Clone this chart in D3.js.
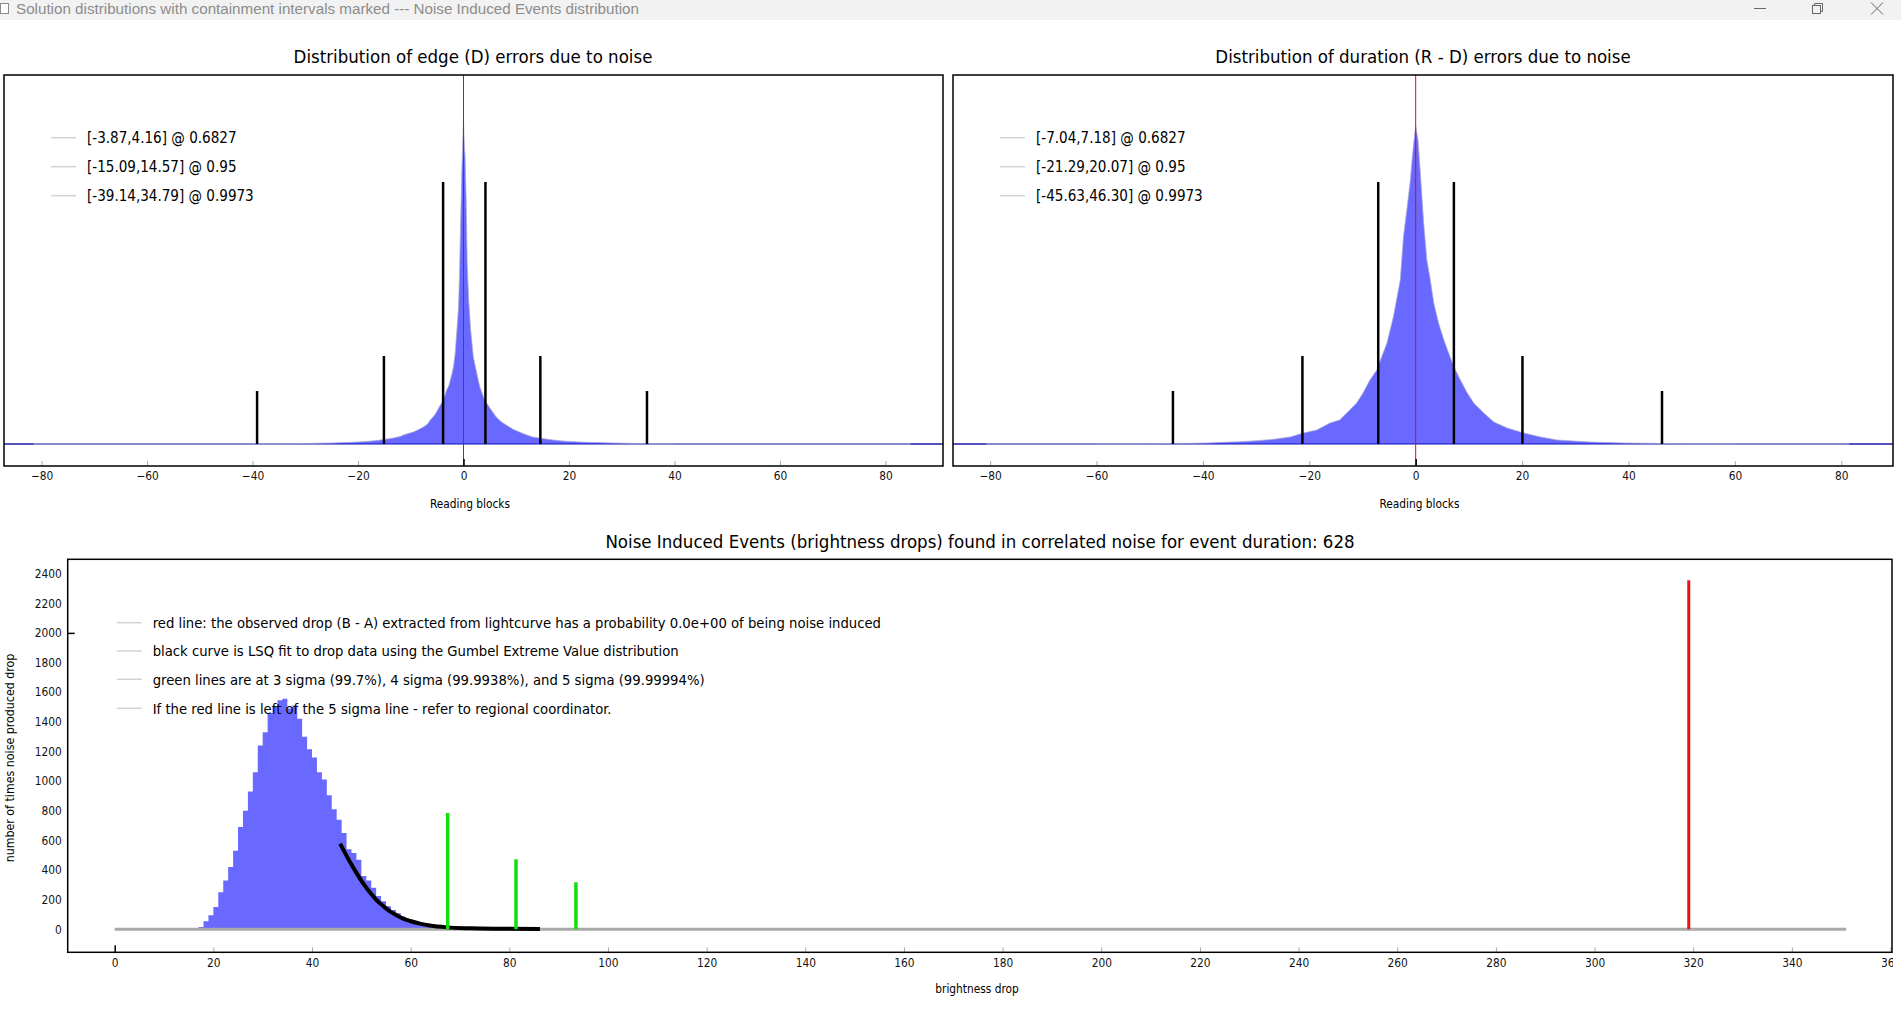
<!DOCTYPE html>
<html>
<head>
<meta charset="utf-8">
<script src="https://cdn.jsdelivr.net/npm/d3@7"></script>
<style>
  html, body { margin: 0; padding: 0; background: #fff; overflow: hidden; }
  svg { display: block; }
  text { font-family: "DejaVu Sans Condensed", "DejaVu Sans", sans-serif; font-stretch: condensed; }
  .tb { font-family: "Liberation Sans", Arial, sans-serif; font-stretch: normal; }
</style>
</head>
<body>
<svg id="chart" width="1901" height="1009"></svg>
<script>
// ---------------- DATA ----------------
const windowTitle = "Solution distributions with containment intervals marked --- Noise Induced Events distribution";

// Top-left: edge (D) errors — histogram (bin centre, relative count)
const edgeX = [-40,-35,-30,-27,-25,-22,-19,-17,-15.8,-14.5,-13.3,-12,-11.4,-10.5,-9.5,-8.5,-7.6,-6.8,-6.3,-5.6,-5.1,-4.5,-3.8,-3.2,-2.8,-2.5,-2.2,-1.9,-1.57,-1.25,-0.94,-0.75,-0.62,-0.43,-0.3,-0.15,0,0.15,0.3,0.5,0.7,0.98,1.36,1.86,2.5,3.1,4.0,5.0,6.2,7.2,8.1,9.3,10.6,12,13.1,14.4,15.6,17,18.8,22,25,28.4,32,36,40];
const edgeCount = [0.2,0.3,0.5,0.8,1.0,1.6,2.3,3.2,4,5,6,7.5,9,10.5,12,14.5,17,20,24,28,32,38,44,54,58,64,70,77,91,114,137,171,204,247,277,300,325,300,287,244,181,144,114,87,71,57,44,36,27,22,19,15,12,9,7,6,5,4,3,2,1.5,1,0.6,0.3,0.2];
const edgeRange = [-81.5, 84.8];
const edgeIntervals = [[-3.87, 4.16], [-15.09, 14.57], [-39.14, 34.79]];
const containLevels = ["0.6827", "0.95", "0.9973"];
const markerHeights = [262, 88, 53];

// Top-right: duration (R - D) errors
const durX = [-60,-55,-50,-45,-42.3,-39.2,-36.1,-33,-29.8,-26.7,-23.6,-21.1,-18.6,-16.1,-14.3,-12.4,-11.1,-9.9,-8.6,-7.3,-6.4,-5.4,-4.8,-4.2,-3.6,-2.9,-2.3,-1.6,-1.0,-0.68,-0.37,0,0.44,0.88,1.5,2.1,2.75,3.4,4.3,5.3,6.2,7.2,8.4,9.7,10.9,12.8,14.7,17.2,20.3,23.5,26.6,29.7,32.9,39.1,45,50,55,60];
const durCount = [0.2,0.3,0.4,0.6,0.7,1,1.7,2.3,3.3,4.7,7,11,14,21,24,34,41,51,64,74,87,101,114,127,144,164,207,237,264,284,301,318,304,271,221,184,164,141,121,104,91,77,64,51,41,31,22,16,11,7,4,3,2,1,0.6,0.4,0.3,0.2];
const durRange = [-80.7, 81.5];
const durIntervals = [[-7.04, 7.18], [-21.29, 20.07], [-45.63, 46.30]];

const topTicks = [-80,-60,-40,-20,0,20,40,60,80];

// Bottom: noise induced events (brightness drop histogram, bin left edge / count)
const dropBins = [15,16,17,18,19,20,21,22,23,24,25,26,27,28,29,30,31,32,33,34,35,36,37,38,39,40,41,42,43,44,45,46,47,48,49,50,51,52,53,54,55,56,57,58,59,60,61,62,63,64,65,66,67,68,69,70,71,72,73,74,75,76,77,78,79,80,81,82,83,84,85];
const dropCounts = [3,6,15,55,95,150,250,330,420,530,690,800,930,1060,1240,1330,1460,1500,1545,1556,1490,1510,1420,1300,1215,1160,1060,1010,905,810,740,650,540,515,470,360,330,280,225,190,155,130,108,85,65,50,30,24,17,12,9,7,5,4,3,3,2,2,2,1,1,1,1,1,1,1,1,1,1,1,1];
const dropRange = [0, 351];
const gumbelX = [45.7,47.7,49.1,50.4,51.8,53.1,54.5,55.8,57.2,58.5,59.9,61.9,63.9,67.3,72.0,78.8,86.2];
const gumbelY = [578,454,376,308,247,196,155,121,94,72,56,38,25,13,7,4,2];
const sigmaX = [67.5, 81.35, 93.5];
const sigmaHeights = [785, 472, 318];
const observedDrop = 319.1;
const observedHeight = 2355;
const bottomXTicks = [0,20,40,60,80,100,120,140,160,180,200,220,240,260,280,300,320,340,360];
const bottomYTicks = [0,200,400,600,800,1000,1200,1400,1600,1800,2000,2200,2400];
const bottomLegend = [
  "red line: the observed drop (B - A) extracted from lightcurve has a probability 0.0e+00 of being noise induced",
  "black curve is LSQ fit to drop data using the Gumbel Extreme Value distribution",
  "green lines are at 3 sigma (99.7%), 4 sigma (99.9938%), and 5 sigma (99.99994%)",
  "If the red line is left of the 5 sigma line - refer to regional coordinator."
];

// ---------------- DRAW ----------------
const svg = d3.select("#chart");
const defs = svg.append("defs");
const TICK_FS = 11.8;

// Window title bar
svg.append("rect").attr("x",0).attr("y",0).attr("width",1901).attr("height",20).attr("fill","#f2f2f2");
svg.append("rect").attr("x",0.5).attr("y",3.5).attr("width",8).attr("height",10).attr("fill","#fff").attr("stroke","#8a8a8a");
svg.append("text").attr("class","tb").attr("x",16).attr("y",13.5).attr("font-size",15.2).attr("fill","#8c8c8c").text(windowTitle);
const btn = svg.append("g").attr("stroke","#666").attr("fill","none").attr("stroke-width",1);
btn.append("line").attr("x1",1754).attr("x2",1766).attr("y1",8.5).attr("y2",8.5);
btn.append("rect").attr("x",1812.5).attr("y",5.5).attr("width",8).attr("height",8);
btn.append("path").attr("d","M1814.5,5.5 V3.5 H1822.5 V11.5 H1820.5");
btn.append("line").attr("x1",1871).attr("x2",1883).attr("y1",2.5).attr("y2",14.5);
btn.append("line").attr("x1",1883).attr("x2",1871).attr("y1",2.5).attr("y2",14.5);

function styleTicks(axg, isMajor, len) {
  axg.select(".domain").remove();
  axg.selectAll(".tick line").attr("stroke", d => isMajor(d) ? "#000" : "#aaa")
    .attr("y2", d => isMajor(d) ? -7 : -len).attr("stroke-width", d => isMajor(d) ? 1.5 : 1);
  axg.selectAll(".tick text").attr("font-size", TICK_FS).attr("fill", "#111").attr("font-family", null);
}

function drawTopPanel(cfg) {
  const {x0, x1, y0, y1, dom, xs, ys, range, intervals, title, titleX, labelX, id} = cfg;
  const x = d3.scaleLinear().domain(dom).range([x0, x1]);
  const y = d3.scaleLinear().domain([-22, 369]).range([y1, y0]);
  defs.append("clipPath").attr("id", id).append("rect")
    .attr("x", x0).attr("y", y0).attr("width", x1 - x0).attr("height", y1 - y0);
  const g = svg.append("g");
  const plot = g.append("g").attr("clip-path", `url(#${id})`);

  // baseline
  plot.append("line").attr("x1", x0).attr("x2", x1).attr("y1", y(0)).attr("y2", y(0))
    .attr("stroke", "#1a1aa8").attr("stroke-width", 1.5);
  plot.append("line").attr("x1", x(range[0])).attr("x2", x(range[1])).attr("y1", y(0)).attr("y2", y(0))
    .attr("stroke", "#9a9ad6").attr("stroke-width", 1.5);

  const pts = xs.map((v, i) => [v, ys[i]]);
  const area = d3.area().x(d => x(d[0])).y0(y(0)).y1(d => y(d[1])).curve(d3.curveLinear);
  plot.append("path").attr("d", area(pts)).attr("fill", "rgba(0,0,255,0.59)");
  const line = d3.line().x(d => x(d[0])).y(d => y(d[1])).curve(d3.curveLinear);
  plot.append("path").attr("d", line(pts)).attr("fill", "none")
    .attr("stroke", "rgba(170,170,210,0.7)").attr("stroke-width", 1);

  // red zero line
  plot.append("line").attr("x1", x(0)).attr("x2", x(0)).attr("y1", y0).attr("y2", y1)
    .attr("stroke", "#ff0000").attr("stroke-width", 1);

  // containment interval markers
  intervals.forEach((iv, i) => {
    iv.forEach(v => {
      plot.append("line").attr("x1", x(v)).attr("x2", x(v))
        .attr("y1", y(0)).attr("y2", y(markerHeights[i]))
        .attr("stroke", "#000").attr("stroke-width", 2.5);
    });
  });

  // legend
  intervals.forEach((iv, i) => {
    const ly = 137.7 + i * 29;
    g.append("line").attr("x1", x0 + 47).attr("x2", x0 + 72).attr("y1", ly).attr("y2", ly)
      .attr("stroke", "#d2d2d2").attr("stroke-width", 1.5);
    g.append("text").attr("x", x0 + 83).attr("y", ly).attr("dy", "0.36em")
      .attr("font-size", 15.05).attr("fill", "#000")
      .text(`[${iv[0].toFixed(2)},${iv[1].toFixed(2)}] @ ${containLevels[i]}`);
  });

  // axis
  const ax = d3.axisBottom(x).tickValues(topTicks).tickSizeInner(-5).tickSizeOuter(0).tickPadding(6)
    .tickFormat(d3.format("d"));
  const axg = g.append("g").attr("transform", `translate(0,${y1})`).call(ax);
  styleTicks(axg, d => d === 0, 5);

  // frame
  g.append("rect").attr("x", x0).attr("y", y0).attr("width", x1 - x0).attr("height", y1 - y0)
    .attr("fill", "none").attr("stroke", "#000").attr("stroke-width", 1.5);

  // title + x label
  g.append("text").attr("x", titleX).attr("y", 56.7).attr("dy", "0.36em").attr("text-anchor", "middle")
    .attr("font-size", 18.5).attr("fill", "#000").text(title);
  g.append("text").attr("x", labelX).attr("y", 504).attr("dy", "0.36em").attr("text-anchor", "middle")
    .attr("font-size", TICK_FS).attr("fill", "#000").text("Reading blocks");
}

drawTopPanel({x0: 4, x1: 943, y0: 75, y1: 466, dom: [-87.13, 90.92], xs: edgeX, ys: edgeCount,
  range: edgeRange, intervals: edgeIntervals, title: "Distribution of edge (D) errors due to noise",
  titleX: 473, labelX: 470, id: "clipTL"});
drawTopPanel({x0: 953, x1: 1893, y0: 75, y1: 466, dom: [-86.97, 89.72], xs: durX, ys: durCount,
  range: durRange, intervals: durIntervals, title: "Distribution of duration (R - D) errors due to noise",
  titleX: 1423, labelX: 1419.5, id: "clipTR"});

// ---------------- Bottom panel ----------------
(function () {
  const x0 = 67.7, x1 = 1892, y0 = 559.3, y1 = 952.3;
  const x = d3.scaleLinear().domain([-9.53, 360.3]).range([x0, x1]);
  const y = d3.scaleLinear().domain([-155.2, 2496.6]).range([y1, y0]);
  defs.append("clipPath").attr("id", "clipB").append("rect")
    .attr("x", x0).attr("y", y0).attr("width", x1 - x0).attr("height", y1 - y0);
  defs.append("clipPath").attr("id", "clipBAxis").append("rect")
    .attr("x", 0).attr("y", -20).attr("width", 1893).attr("height", 80);
  const g = svg.append("g");
  const plot = g.append("g").attr("clip-path", "url(#clipB)");

  const pts = dropBins.map((b, i) => [b, dropCounts[i]]);
  pts.push([dropBins[dropBins.length - 1] + 1, 0]);
  const area = d3.area().x(d => x(d[0])).y0(y(0)).y1(d => y(d[1])).curve(d3.curveStepAfter);
  plot.append("path").attr("d", area(pts)).attr("fill", "rgba(0,0,255,0.59)");

  // zero line over histogram range
  plot.append("line").attr("x1", x(dropRange[0])).attr("x2", x(dropRange[1]))
    .attr("y1", y(0)).attr("y2", y(0)).attr("stroke", "#a9a9a9").attr("stroke-width", 3);

  // Gumbel fit
  const gl = d3.line().x(d => x(d[0])).y(d => y(d[1])).curve(d3.curveMonotoneX);
  plot.append("path").attr("d", gl(gumbelX.map((v, i) => [v, gumbelY[i]])))
    .attr("fill", "none").attr("stroke", "#000").attr("stroke-width", 4).attr("stroke-linecap", "butt");

  // sigma lines
  sigmaX.forEach((v, i) => {
    plot.append("line").attr("x1", x(v)).attr("x2", x(v)).attr("y1", y(0)).attr("y2", y(sigmaHeights[i]))
      .attr("stroke", "#10e010").attr("stroke-width", 3.5);
  });
  // observed drop
  plot.append("line").attr("x1", x(observedDrop)).attr("x2", x(observedDrop))
    .attr("y1", y(0)).attr("y2", y(observedHeight)).attr("stroke", "#ee1111").attr("stroke-width", 3);

  // legend
  bottomLegend.forEach((t, i) => {
    const ly = [622.7, 651, 679.3, 708.3][i];
    g.append("line").attr("x1", x0 + 49).attr("x2", x0 + 74).attr("y1", ly).attr("y2", ly)
      .attr("stroke", "#d2d2d2").attr("stroke-width", 1.5);
    g.append("text").attr("x", x0 + 85).attr("y", ly).attr("dy", "0.36em")
      .attr("font-size", 14.7).attr("fill", "#000").text(t);
  });

  // axes
  const axb = d3.axisBottom(x).tickValues(bottomXTicks).tickSizeInner(-5).tickSizeOuter(0).tickPadding(6)
    .tickFormat(d3.format("d"));
  const axg = g.append("g").attr("transform", `translate(0,${y1})`).attr("clip-path", "url(#clipBAxis)");
  const axInner = axg.append("g").call(axb);
  styleTicks(axInner, d => d === 0, 5);

  const ayl = d3.axisLeft(y).tickValues(bottomYTicks).tickSizeInner(-7).tickSizeOuter(0).tickPadding(6)
    .tickFormat(d3.format("d"));
  const ayg = g.append("g").attr("transform", `translate(${x0},0)`).call(ayl);
  ayg.select(".domain").remove();
  ayg.selectAll(".tick line").attr("stroke", d => d === 2000 ? "#000" : "none").attr("stroke-width", 1.5);
  ayg.selectAll(".tick text").attr("font-size", TICK_FS).attr("fill", "#111").attr("font-family", null);

  // frame
  g.append("rect").attr("x", x0).attr("y", y0).attr("width", x1 - x0).attr("height", y1 - y0)
    .attr("fill", "none").attr("stroke", "#000").attr("stroke-width", 1.5);

  g.append("text").attr("x", 980).attr("y", 541).attr("dy", "0.36em").attr("text-anchor", "middle")
    .attr("font-size", 18.5).attr("fill", "#000")
    .text("Noise Induced Events (brightness drops) found in correlated noise for event duration: 628");
  g.append("text").attr("x", 977).attr("y", 989).attr("dy", "0.36em").attr("text-anchor", "middle")
    .attr("font-size", TICK_FS).attr("fill", "#000").text("brightness drop");
  g.append("text").attr("transform", "translate(10,758) rotate(-90)").attr("dy", "0.36em")
    .attr("text-anchor", "middle").attr("font-size", 12.3).attr("fill", "#000")
    .text("number of times noise produced drop");
})();
</script>
</body>
</html>
